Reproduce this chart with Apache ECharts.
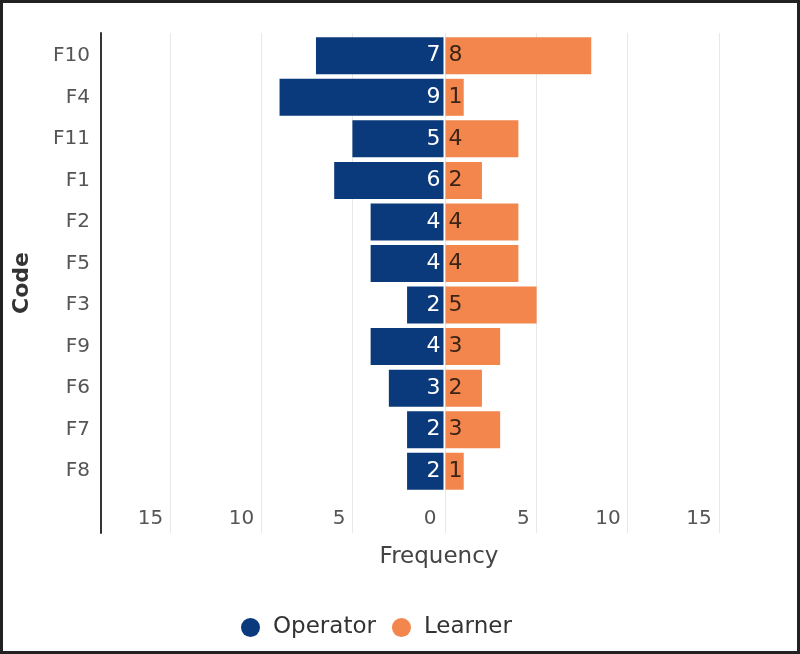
<!DOCTYPE html>
<html>
<head>
<meta charset="utf-8">
<script src="https://cdn.jsdelivr.net/npm/echarts@6/dist/echarts.min.js"></script>
<style>
html,body{margin:0;padding:0;background:#fff;}
#chart{width:800px;height:654px;}
</style>
</head>
<body>
<div id="chart"></div>
<script>
const categories = ['F10','F4','F11','F1','F2','F5','F3','F9','F6','F7','F8'];
const operatorValues = [7,9,5,6,4,4,2,4,3,2,2];
const learnerValues = [8,1,4,2,4,4,5,3,2,3,1];
const seriesNames = ['Operator','Learner'];
const leftMax = 18.8;
const rightMax = 15;
const tickInterval = 5;

const FONT = '"DejaVu Sans", Inter, sans-serif';
const chart = echarts.init(document.getElementById('chart'), null, {renderer:'canvas'});

const tickLabel = {fontSize:20, color:'#555', align:'right', padding:[0,7,0,0], margin:17, fontFamily:FONT};

chart.setOption({
  animation:false,
  textStyle:{fontFamily:FONT},
  grid:[
    {left:101, top:35, width:342.5, height:457, outerBoundsMode:'none'},
    {left:445.5, top:35, width:273.3, height:457, outerBoundsMode:'none'},
    {left:101, top:33, width:342.5, height:500, outerBoundsMode:'none'},
    {left:445.5, top:33, width:273.3, height:500, outerBoundsMode:'none'}
  ],
  xAxis:[
    {gridIndex:0, type:'value', inverse:true, min:0, max:leftMax, interval:tickInterval,
     axisLine:{show:false}, axisTick:{show:false}, splitLine:{show:false},
     axisLabel:Object.assign({showMaxLabel:false}, tickLabel)},
    {gridIndex:1, type:'value', min:0, max:rightMax, interval:tickInterval,
     axisLine:{show:false}, axisTick:{show:false}, splitLine:{show:false},
     axisLabel:Object.assign({showMinLabel:false}, tickLabel)},
    {gridIndex:2, type:'value', inverse:true, min:0, max:leftMax, interval:tickInterval,
     axisLine:{show:false}, axisTick:{show:false}, axisLabel:{show:false},
     splitLine:{show:true, showMinLine:false, showMaxLine:false, lineStyle:{color:'#e8e8e8', width:1}}},
    {gridIndex:3, type:'value', min:0, max:rightMax, interval:tickInterval,
     axisLine:{show:false}, axisTick:{show:false}, axisLabel:{show:false},
     splitLine:{show:true, lineStyle:{color:'#e8e8e8', width:1}}}
  ],
  yAxis:[
    {gridIndex:0, type:'category', data:categories, inverse:true,
     axisLine:{show:false}, axisTick:{show:false},
     axisLabel:{fontSize:20, color:'#555', margin:11, fontFamily:FONT}},
    {gridIndex:1, type:'category', data:categories, inverse:true, show:false},
    {gridIndex:2, type:'value', min:0, max:1, position:'left',
     axisLine:{show:true, onZero:false, lineStyle:{color:'#333', width:2}},
     axisTick:{show:false}, axisLabel:{show:false}, splitLine:{show:false},
     name:'Code', nameLocation:'middle', nameGap:68, nameRotate:90,
     nameTextStyle:{fontSize:22, fontWeight:'bold', color:'#333', fontFamily:FONT}},
    {gridIndex:3, type:'value', show:false}
  ],
  legend:{
    data:seriesNames, left:236, top:611, icon:'circle', itemWidth:19, itemHeight:19, itemGap:16,
    textStyle:{fontSize:23, color:'#333', padding:[0,0,0,8], fontFamily:FONT}
  },
  graphic:[
    {type:'text', style:{text:'Frequency', x:439, y:557, align:'center', verticalAlign:'middle',
      fontSize:23, fontWeight:500, fill:'#444', fontFamily:FONT}},
    {type:'rect', shape:{x:1.5, y:1.5, width:797, height:651}, style:{fill:null, stroke:'#222', lineWidth:3}, silent:true}
  ],
  series:[
    {type:'bar', name:seriesNames[0], xAxisIndex:0, yAxisIndex:0, data:operatorValues, barWidth:37,
     itemStyle:{color:'#0b3a7c'},
     label:{show:true, position:'insideRight', distance:3, color:'#fff', fontSize:22, fontFamily:FONT}},
    {type:'bar', name:seriesNames[1], xAxisIndex:1, yAxisIndex:1, data:learnerValues, barWidth:37,
     itemStyle:{color:'#f2864d'},
     label:{show:true, position:'insideLeft', distance:3, color:'#3b2415', fontSize:22, fontFamily:FONT}}
  ]
});
</script>
</body>
</html>
